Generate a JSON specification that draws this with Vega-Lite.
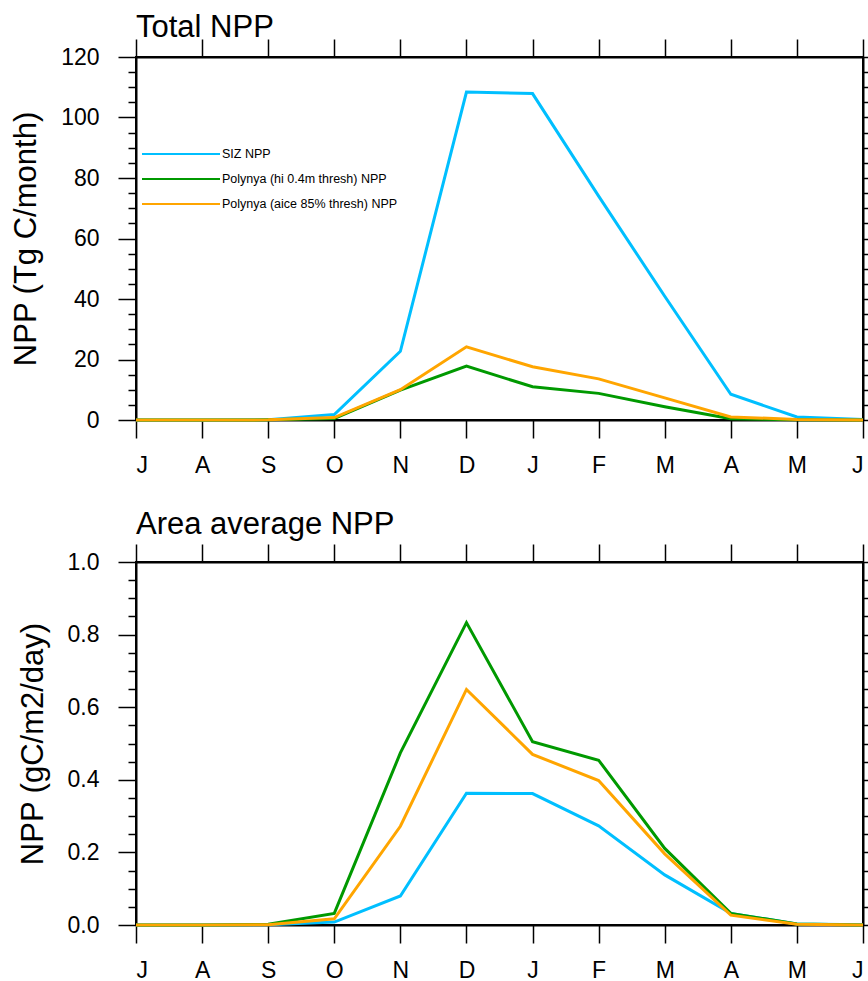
{
  "$schema": "https://vega.github.io/schema/vega-lite/v6.json",
  "padding": {"left": 9, "top": 11, "right": 0, "bottom": 0},
  "config": {
    "font": "Liberation Sans",
    "view": {"stroke": "black", "strokeWidth": 2},
    "axis": {
      "grid": false,
      "domainColor": "black",
      "domainWidth": 2,
      "tickColor": "black",
      "tickWidth": 1.5,
      "labelFontSize": 23,
      "labelColor": "black",
      "titleFontSize": 31,
      "titleFontWeight": "normal",
      "titleColor": "black"
    },
    "title": {"fontSize": 31, "fontWeight": "normal", "anchor": "start", "frame": "group", "color": "black"}
  },
  "datasets": {
    "total": [
      {"m": 0, "s": "SIZ NPP", "v": 0},
      {"m": 1, "s": "SIZ NPP", "v": 0},
      {"m": 2, "s": "SIZ NPP", "v": 0.1},
      {"m": 3, "s": "SIZ NPP", "v": 1.8},
      {"m": 4, "s": "SIZ NPP", "v": 22.7},
      {"m": 5, "s": "SIZ NPP", "v": 108.4},
      {"m": 6, "s": "SIZ NPP", "v": 107.9},
      {"m": 7, "s": "SIZ NPP", "v": 74.0},
      {"m": 8, "s": "SIZ NPP", "v": 40.9},
      {"m": 9, "s": "SIZ NPP", "v": 8.5},
      {"m": 10, "s": "SIZ NPP", "v": 1.0},
      {"m": 11, "s": "SIZ NPP", "v": 0.2},
      {"m": 0, "s": "Polynya (hi 0.4m thresh) NPP", "v": 0},
      {"m": 1, "s": "Polynya (hi 0.4m thresh) NPP", "v": 0},
      {"m": 2, "s": "Polynya (hi 0.4m thresh) NPP", "v": 0.05},
      {"m": 3, "s": "Polynya (hi 0.4m thresh) NPP", "v": 0.5},
      {"m": 4, "s": "Polynya (hi 0.4m thresh) NPP", "v": 9.9},
      {"m": 5, "s": "Polynya (hi 0.4m thresh) NPP", "v": 17.8},
      {"m": 6, "s": "Polynya (hi 0.4m thresh) NPP", "v": 11.0},
      {"m": 7, "s": "Polynya (hi 0.4m thresh) NPP", "v": 8.8},
      {"m": 8, "s": "Polynya (hi 0.4m thresh) NPP", "v": 4.4},
      {"m": 9, "s": "Polynya (hi 0.4m thresh) NPP", "v": 0.4},
      {"m": 10, "s": "Polynya (hi 0.4m thresh) NPP", "v": 0.05},
      {"m": 11, "s": "Polynya (hi 0.4m thresh) NPP", "v": 0},
      {"m": 0, "s": "Polynya (aice 85% thresh) NPP", "v": 0},
      {"m": 1, "s": "Polynya (aice 85% thresh) NPP", "v": 0},
      {"m": 2, "s": "Polynya (aice 85% thresh) NPP", "v": 0.05},
      {"m": 3, "s": "Polynya (aice 85% thresh) NPP", "v": 0.8},
      {"m": 4, "s": "Polynya (aice 85% thresh) NPP", "v": 10.0},
      {"m": 5, "s": "Polynya (aice 85% thresh) NPP", "v": 24.2},
      {"m": 6, "s": "Polynya (aice 85% thresh) NPP", "v": 17.6},
      {"m": 7, "s": "Polynya (aice 85% thresh) NPP", "v": 13.6},
      {"m": 8, "s": "Polynya (aice 85% thresh) NPP", "v": 7.3},
      {"m": 9, "s": "Polynya (aice 85% thresh) NPP", "v": 1.0},
      {"m": 10, "s": "Polynya (aice 85% thresh) NPP", "v": 0.2},
      {"m": 11, "s": "Polynya (aice 85% thresh) NPP", "v": 0}
    ],
    "avg": [
      {"m": 0, "s": "SIZ NPP", "v": 0},
      {"m": 1, "s": "SIZ NPP", "v": 0},
      {"m": 2, "s": "SIZ NPP", "v": 0.001},
      {"m": 3, "s": "SIZ NPP", "v": 0.008},
      {"m": 4, "s": "SIZ NPP", "v": 0.080},
      {"m": 5, "s": "SIZ NPP", "v": 0.363},
      {"m": 6, "s": "SIZ NPP", "v": 0.362},
      {"m": 7, "s": "SIZ NPP", "v": 0.273},
      {"m": 8, "s": "SIZ NPP", "v": 0.138},
      {"m": 9, "s": "SIZ NPP", "v": 0.032},
      {"m": 10, "s": "SIZ NPP", "v": 0.003},
      {"m": 11, "s": "SIZ NPP", "v": 0.001},
      {"m": 0, "s": "Polynya (hi 0.4m thresh) NPP", "v": 0},
      {"m": 1, "s": "Polynya (hi 0.4m thresh) NPP", "v": 0},
      {"m": 2, "s": "Polynya (hi 0.4m thresh) NPP", "v": 0.002},
      {"m": 3, "s": "Polynya (hi 0.4m thresh) NPP", "v": 0.032},
      {"m": 4, "s": "Polynya (hi 0.4m thresh) NPP", "v": 0.474},
      {"m": 5, "s": "Polynya (hi 0.4m thresh) NPP", "v": 0.833},
      {"m": 6, "s": "Polynya (hi 0.4m thresh) NPP", "v": 0.505},
      {"m": 7, "s": "Polynya (hi 0.4m thresh) NPP", "v": 0.454},
      {"m": 8, "s": "Polynya (hi 0.4m thresh) NPP", "v": 0.211},
      {"m": 9, "s": "Polynya (hi 0.4m thresh) NPP", "v": 0.032},
      {"m": 10, "s": "Polynya (hi 0.4m thresh) NPP", "v": 0.003},
      {"m": 11, "s": "Polynya (hi 0.4m thresh) NPP", "v": 0},
      {"m": 0, "s": "Polynya (aice 85% thresh) NPP", "v": 0},
      {"m": 1, "s": "Polynya (aice 85% thresh) NPP", "v": 0},
      {"m": 2, "s": "Polynya (aice 85% thresh) NPP", "v": 0.001},
      {"m": 3, "s": "Polynya (aice 85% thresh) NPP", "v": 0.017},
      {"m": 4, "s": "Polynya (aice 85% thresh) NPP", "v": 0.272},
      {"m": 5, "s": "Polynya (aice 85% thresh) NPP", "v": 0.649},
      {"m": 6, "s": "Polynya (aice 85% thresh) NPP", "v": 0.470},
      {"m": 7, "s": "Polynya (aice 85% thresh) NPP", "v": 0.398},
      {"m": 8, "s": "Polynya (aice 85% thresh) NPP", "v": 0.196},
      {"m": 9, "s": "Polynya (aice 85% thresh) NPP", "v": 0.027},
      {"m": 10, "s": "Polynya (aice 85% thresh) NPP", "v": 0.002},
      {"m": 11, "s": "Polynya (aice 85% thresh) NPP", "v": 0}
    ]
  },
  "spacing": 30,
  "resolve": {"legend": {"color": "independent"}},
  "vconcat": [
    {
      "width": 727,
      "height": 363,
      "title": {"text": "Total NPP", "baseline": "alphabetic", "offset": -30},
      "data": {"name": "total"},
      "layer": [
        {
          "mark": {"type": "line", "strokeWidth": 3},
          "encoding": {
            "x": {
              "field": "m", "type": "quantitative",
              "scale": {"domain": [0, 11], "nice": false, "zero": false},
              "axis": {
                "orient": "bottom", "title": null,
                "values": [0, 1, 2, 3, 4, 5, 6, 7, 8, 9, 10, 11],
                "labelExpr": "['J','A','S','O','N','D','J','F','M','A','M','J'][datum.value]",
                "tickSize": 18, "labelPadding": 16
              }
            },
            "y": {
              "field": "v", "type": "quantitative",
              "scale": {"domain": [0, 120], "nice": false},
              "axis": {
                "orient": "left", "title": "NPP (Tg C/month)",
                "values": [0, 5, 10, 15, 20, 25, 30, 35, 40, 45, 50, 55, 60, 65, 70, 75, 80, 85, 90, 95, 100, 105, 110, 115, 120],
                "format": "d",
                "labelExpr": "datum.value % 20 === 0 ? datum.label : ''",
                "tickSize": {"condition": {"test": "datum.value % 20 === 0", "value": 18}, "value": 8},
                "labelPadding": 19, "titlePadding": 18
              }
            },
            "color": {
              "field": "s", "type": "nominal",
              "scale": {
                "domain": ["SIZ NPP", "Polynya (hi 0.4m thresh) NPP", "Polynya (aice 85% thresh) NPP"],
                "range": ["#00BFFF", "#009900", "#FFA500"]
              },
              "legend": {
                "title": null, "orient": "none", "legendX": 5, "legendY": 90,
                "symbolType": "stroke", "symbolSize": 6084, "symbolStrokeWidth": 2,
                "labelFontSize": 12.5, "labelOffset": 1, "labelColor": "black", "labelLimit": 500,
                "clipHeight": 14, "rowPadding": 11, "padding": 0
              }
            }
          }
        },
        {
          "mark": {"type": "line", "opacity": 0},
          "encoding": {
            "x": {
              "field": "m", "type": "quantitative",
              "scale": {"domain": [0, 11], "nice": false, "zero": false},
              "axis": {"orient": "top", "title": null, "labels": false, "values": [0, 1, 2, 3, 4, 5, 6, 7, 8, 9, 10, 11], "tickSize": 18}
            },
            "y": {
              "field": "v", "type": "quantitative",
              "scale": {"domain": [0, 120], "nice": false},
              "axis": {"orient": "right", "title": null, "labels": false, "values": [0, 5, 10, 15, 20, 25, 30, 35, 40, 45, 50, 55, 60, 65, 70, 75, 80, 85, 90, 95, 100, 105, 110, 115, 120], "tickSize": 6}
            }
          }
        }
      ],
      "resolve": {"axis": {"x": "independent", "y": "independent"}}
    },
    {
      "width": 727,
      "height": 363,
      "title": {"text": "Area average NPP", "baseline": "alphabetic", "offset": -22},
      "data": {"name": "avg"},
      "layer": [
        {
          "mark": {"type": "line", "strokeWidth": 3},
          "encoding": {
            "x": {
              "field": "m", "type": "quantitative",
              "scale": {"domain": [0, 11], "nice": false, "zero": false},
              "axis": {
                "orient": "bottom", "title": null,
                "values": [0, 1, 2, 3, 4, 5, 6, 7, 8, 9, 10, 11],
                "labelExpr": "['J','A','S','O','N','D','J','F','M','A','M','J'][datum.value]",
                "tickSize": 18, "labelPadding": 16
              }
            },
            "y": {
              "field": "v", "type": "quantitative",
              "scale": {"domain": [0, 1], "nice": false},
              "axis": {
                "orient": "left", "title": "NPP (gC/m2/day)",
                "values": [0, 0.05, 0.1, 0.15, 0.2, 0.25, 0.3, 0.35, 0.4, 0.45, 0.5, 0.55, 0.6, 0.65, 0.7, 0.75, 0.8, 0.85, 0.9, 0.95, 1],
                "format": ".1f",
                "labelExpr": "abs(datum.value * 5 - round(datum.value * 5)) < 0.001 ? datum.label : ''",
                "tickSize": {"condition": {"test": "abs(datum.value * 5 - round(datum.value * 5)) < 0.001", "value": 18}, "value": 8},
                "labelPadding": 19, "titlePadding": 18
              }
            },
            "color": {
              "field": "s", "type": "nominal",
              "scale": {
                "domain": ["SIZ NPP", "Polynya (hi 0.4m thresh) NPP", "Polynya (aice 85% thresh) NPP"],
                "range": ["#00BFFF", "#009900", "#FFA500"]
              },
              "legend": null
            }
          }
        },
        {
          "mark": {"type": "line", "opacity": 0},
          "encoding": {
            "x": {
              "field": "m", "type": "quantitative",
              "scale": {"domain": [0, 11], "nice": false, "zero": false},
              "axis": {"orient": "top", "title": null, "labels": false, "values": [0, 1, 2, 3, 4, 5, 6, 7, 8, 9, 10, 11], "tickSize": 18}
            },
            "y": {
              "field": "v", "type": "quantitative",
              "scale": {"domain": [0, 1], "nice": false},
              "axis": {"orient": "right", "title": null, "labels": false, "values": [0, 0.05, 0.1, 0.15, 0.2, 0.25, 0.3, 0.35, 0.4, 0.45, 0.5, 0.55, 0.6, 0.65, 0.7, 0.75, 0.8, 0.85, 0.9, 0.95, 1], "tickSize": 6}
            }
          }
        }
      ],
      "resolve": {"axis": {"x": "independent", "y": "independent"}}
    }
  ]
}
